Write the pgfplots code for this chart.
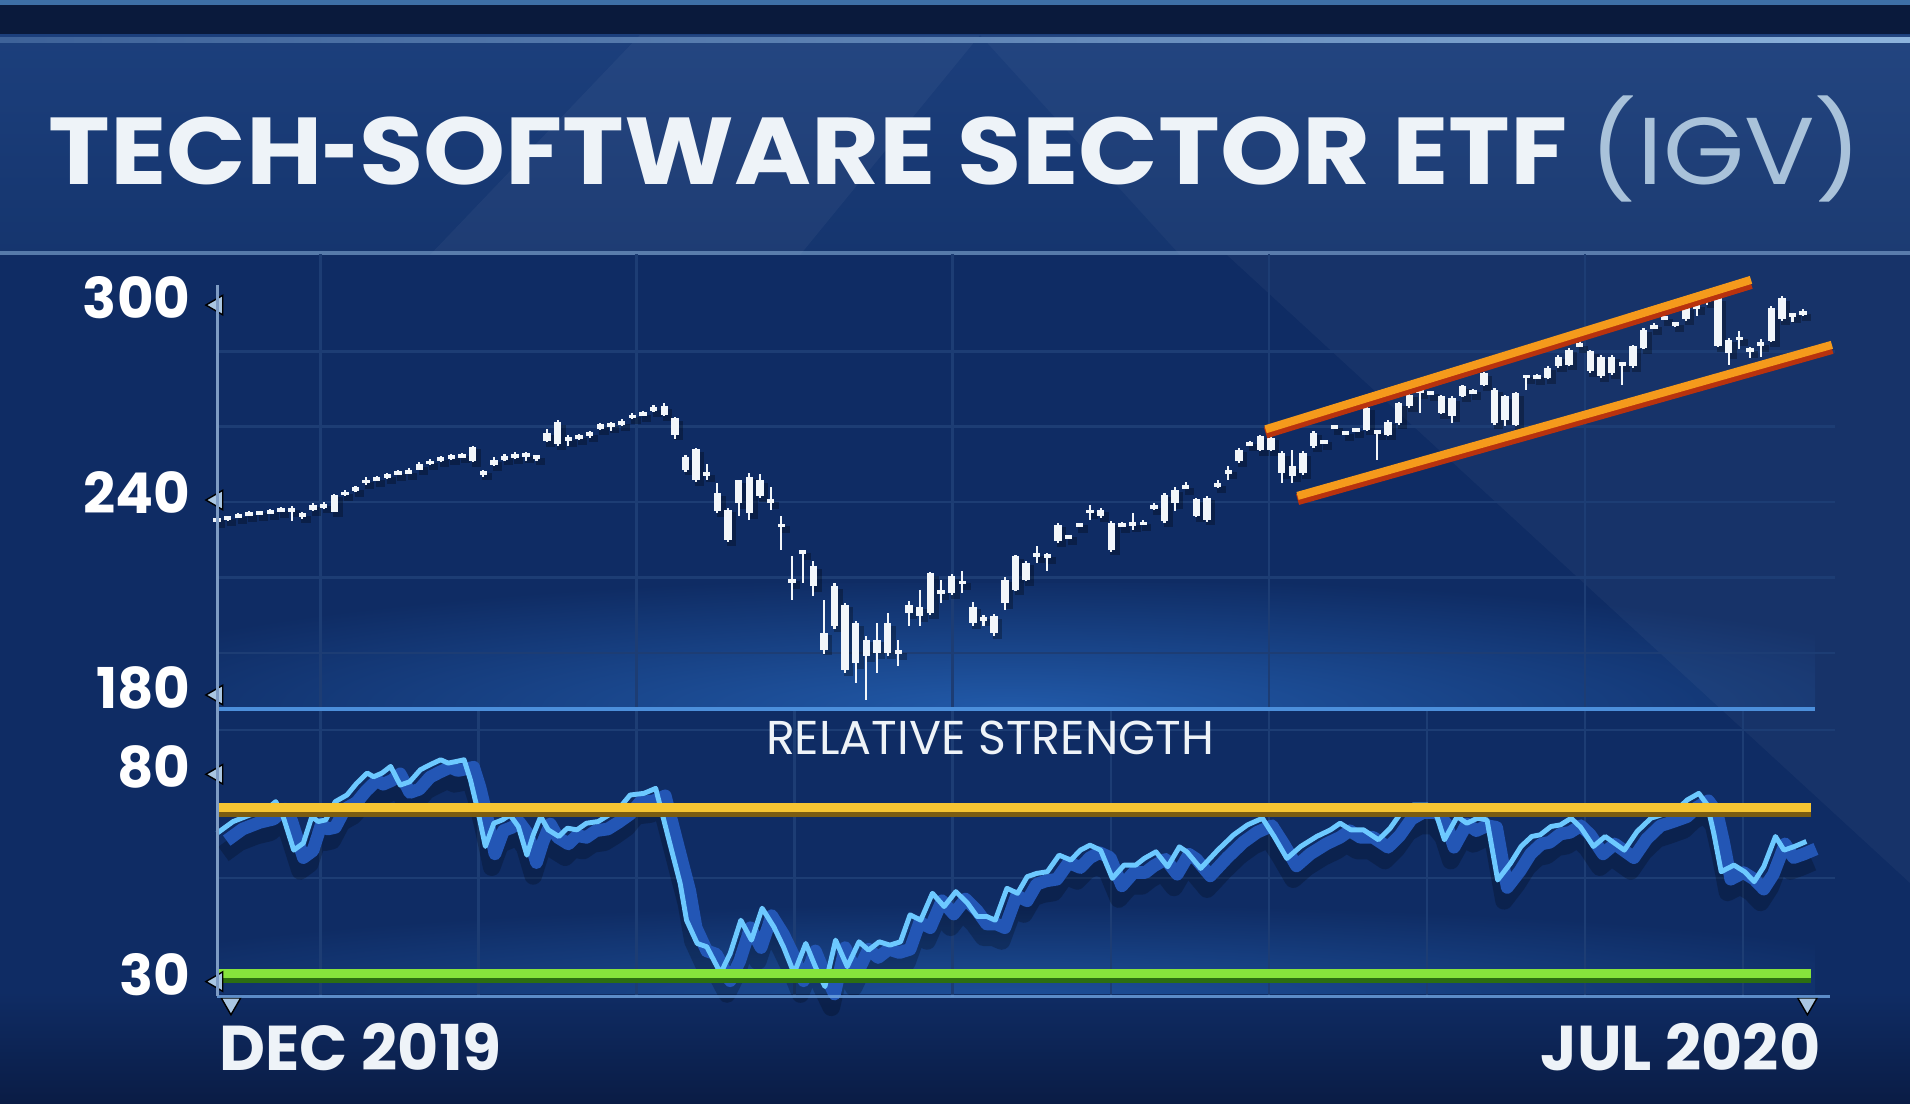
\documentclass[border=0pt]{standalone}
\usepackage{fontspec}
\setmainfont{Poppins}
\usepackage{pgfplots}
\usepackage{pgfplotstable}
\pgfplotsset{compat=1.18}

\definecolor{bgmain}{HTML}{0F2C64}
\definecolor{bgdark}{HTML}{0A1C45}
\definecolor{topstrip}{HTML}{0A1A3C}
\definecolor{toplight}{HTML}{3E6FA6}
\definecolor{titletop}{HTML}{1C3F7C}
\definecolor{titlebot}{HTML}{15356E}
\definecolor{titleedge}{HTML}{8DB3DC}
\definecolor{glow}{HTML}{2159A8}
\definecolor{sepline}{HTML}{4C8FDB}
\definecolor{gridc}{HTML}{1D3D74}
\definecolor{axline}{HTML}{7E9CC4}
\definecolor{tickblue}{HTML}{A9C6E2}
\definecolor{candle}{HTML}{F2F6FA}
\definecolor{orange1}{HTML}{F59A1C}
\definecolor{orange2}{HTML}{B8320E}
\definecolor{yellow1}{HTML}{F6C532}
\definecolor{yellow2}{HTML}{7A5C12}
\definecolor{green1}{HTML}{86E33C}
\definecolor{green2}{HTML}{2C6E12}
\definecolor{rsilight}{HTML}{6DC9FF}
\definecolor{rsidark}{HTML}{2356B5}
\definecolor{igv}{HTML}{A9C2DA}
\definecolor{titlec}{HTML}{EEF3F8}

\newcommand{\ticfont}{\fontsize{16}{16}\selectfont\bfseries}

\pgfplotstableread{
i o h l c
0 231.5 232.8 231 232
1 232 233 231.5 232.4
2 232.6 233.8 232.2 233.3
3 233 234.4 232.8 233.8
4 233.6 234.6 233.2 234.2
5 234 235 233.6 234.4
6 234.3 235.6 234 235
7 235.5 236 231.5 234.3
8 233.8 234.2 232 232.5
9 234.8 237 234.4 236.4
10 236.2 237.2 235 236
11 234.3 239.8 234 239.5
12 239.5 241 239 240.2
13 240.6 242 240.2 241.6
14 243 245 242.6 244.1
15 244 245.2 243.6 244.6
16 244.8 246.2 244.4 245.7
17 246 247 245.6 246.4
18 246.2 247.6 245.8 246.7
19 247.2 249.5 247 248.8
20 249 250.5 248.6 249.8
21 250 251.3 249.6 250.8
22 250.6 252 250.2 251.3
23 251.2 252.4 250.8 251.8
24 249.8 254.6 249.4 254.2
25 246.8 247.2 245 245.7
26 248.6 251 248.2 250.3
27 250.5 252 250 251.3
28 251 252.6 250.6 251.8
29 252.2 252.6 250 251
30 250.6 251.6 250 251.3
31 256 259.8 255.6 258.5
32 255 262.5 254.6 261.8
33 257.2 257.8 254.6 255.9
34 256.8 258.2 256.4 257.5
35 257.8 259 257 258.3
36 259.8 261.6 259.4 261.2
37 261.4 261.8 259.2 260.5
38 261 262.8 260.6 262.1
39 263 264.6 262.8 264.1
40 264 265.2 263.8 264.6
41 265.4 267 265 266.2
42 264 267.8 263.6 266.8
43 263 263.4 256.5 258
44 251 251.8 246.5 247.2
45 253.4 254 243.5 244.1
46 245.5 249 244 246
47 240 243 233.9 234.4
48 234.9 235.5 225 225.6
49 237 244.1 232.8 244
50 233.9 246.2 231.8 245
51 244 246 238.5 239
52 237.8 242 234.9 237.2
53 230.2 232.8 222.6 229.8
54 213.2 220.5 207.2 212.8
55 222 222.6 212.3 221.5
56 217.4 219.2 208.2 211.3
57 197 207.2 190.3 191.8
58 199 212.3 198 211.3
59 205.6 206 184.6 185.6
60 187.7 200.5 181.5 200
61 194.9 196 176.4 189.7
62 190.8 200 184.6 194.9
63 190.8 203 189.7 200
64 191.4 194.9 186.7 190.8
65 203 206.7 199 205.6
66 202 210.3 199 205
67 203 215.8 202.5 215.4
68 209.6 213.3 206.2 209.2
69 209.2 215 208.6 214.4
70 212.6 215.9 209.2 212.3
71 205 206.6 199 200
72 201.2 202.5 199 201.5
73 197 202.8 195.9 202
74 206.2 214 204.1 213.3
75 210.3 220.8 209.8 220.5
76 213.3 219.2 212.8 218.5
77 220.8 223.6 218.5 221
78 220.5 221.5 215.9 220.8
79 225.1 230.8 224.6 230.3
80 226.4 227.2 225.8 226.7
81 230.1 230.6 229.8 230.3
82 234.2 236.4 231.8 234.4
83 232.8 235.4 232.4 234.9
84 222.6 231.4 221.8 230.8
85 230 231.2 229.4 230.3
86 230.3 233.8 228.7 230.6
87 230.4 231.6 230 230.8
88 235.4 237 234.8 235.9
89 231.3 240 230.8 239.5
90 237 242 234.4 241
91 241.6 243.5 241.2 242
92 238 238.6 232.6 233
93 231.8 239 231 238.5
94 242.4 244.1 241.5 242.6
95 246.5 248.2 244 246.7
96 249.7 253.8 249.2 253.3
97 255 256 254.6 255.4
98 253.3 258 252.8 257.4
99 253.3 257.6 252.8 257
100 252.3 252.8 243.1 246.2
101 245.1 253.3 243.1 248.2
102 246.2 252.8 245.6 252.3
103 254.4 259 254 258.5
104 255.6 256.4 255.2 255.9
105 260.2 261 259.8 260.5
106 258.4 259 258 258.5
107 259.3 260 258.8 259.5
108 259.5 266.6 259 266.2
109 258.8 259.2 250.3 258.5
110 258 262.4 257.6 262
111 261.5 268 261 267.7
112 266.7 270.6 266.2 270.3
113 271.6 272 264.6 271.3
114 270.6 271.5 270.3 270.8
115 269.8 270.2 264.2 264.6
116 269.2 269.8 261.5 263.6
117 269.8 273.2 269.4 272.8
118 271 272 270.6 271.3
119 273.3 277.3 273 276.9
120 271.8 272.3 261 261.5
121 262.6 270.2 260.5 269.8
122 261 271.2 260.6 270.8
123 275.6 276.3 271.8 276.1
124 275.6 276.5 275 275.9
125 275.4 279 275 278.5
126 279 282.4 278.6 282
127 279.5 284.5 279 284.1
128 285.4 287 285 285.7
129 283.6 284 277 277.4
130 282 282.5 275.5 275.9
131 276.9 282.4 276.4 282
132 279.8 280 273.3 279.5
133 279 285.5 278.6 285.1
134 284.6 290.7 284.2 290.3
135 291 292.2 290.6 291.3
136 293.6 294.4 293.2 293.9
137 292 292.4 291.2 291.8
138 293.4 297.4 293 297
139 297 298.5 294.4 297.6
140 299.2 300.3 298 299.5
141 300 300.6 285 285.2
142 287.2 287.6 279.5 283.1
143 287.4 290 284.2 287.7
144 284 285 281.6 284.1
145 285.6 287.5 282 286
146 286.7 297.4 286.4 297
147 293.4 300.5 293 300
148 294.8 295.5 292.5 294.9
149 295.2 296.5 294.4 295.4
}\candles

\pgfplotstableread{
x y
0 64.1
1.5 66.9
3.1 68.5
4.4 69.3
5.5 71.7
6.1 68.9
7.2 60.0
8.1 61.7
8.9 68.1
9.5 66.9
10.2 67.3
11.1 71.7
12.2 73.3
13.1 76.1
14.1 78.6
14.7 77.7
15.5 78.6
16.3 80.2
17.2 75.7
18.1 76.5
19.1 79.4
20.0 80.6
21.0 81.8
21.7 81.0
22.5 81.4
23.2 81.8
23.8 76.9
24.4 70.5
25.2 60.9
26.0 66.5
26.8 67.3
27.5 68.5
28.3 65.7
29.1 58.8
29.7 63.7
30.4 68.1
31.1 64.9
32.1 63.3
32.9 65.3
33.8 64.9
34.7 66.5
35.8 66.9
36.8 68.5
37.9 70.5
38.8 73.3
40.1 73.7
41.2 74.9
41.8 68.9
42.6 60.9
43.5 52.0
44.1 43.1
45.1 37.5
46.0 36.7
47.3 30.3
48.2 35.1
49.2 43.1
50.2 38.3
51.2 46.0
52.3 41.5
53.2 36.7
54.2 30.3
55.3 37.5
56.2 31.9
57.1 27.1
58.1 38.3
59.2 31.9
60.3 37.9
61.2 35.9
62.2 37.9
63.2 37.1
64.2 37.9
65.1 44.4
66.1 43.1
67.2 49.6
68.3 46.4
69.4 50.0
70.5 47.2
71.4 44.0
72.3 44.0
73.1 43.1
74.2 50.8
75.2 49.6
76.1 53.6
77.0 54.4
78.0 54.8
79.1 58.8
80.2 57.6
81.1 60.0
82.0 61.2
83.0 60.0
84.1 53.2
85.2 56.4
86.3 56.4
87.1 58.0
88.2 59.6
89.3 56.0
90.4 60.8
91.1 59.6
92.4 55.6
94.0 60.0
95.5 63.7
96.8 66.1
98.2 67.7
99.3 63.3
100.5 58.0
101.8 60.9
103.3 63.3
104.6 64.9
105.5 66.5
106.5 64.9
107.7 64.9
109.1 62.5
110.2 65.3
111.3 69.3
112.4 70.9
113.7 70.9
114.6 68.1
115.3 62.5
116.5 68.1
117.4 66.5
118.4 67.7
119.3 67.3
120.3 52.8
121.5 56.8
122.5 60.9
123.5 63.3
124.3 63.7
125.3 65.7
126.2 66.1
127.2 67.7
128.1 65.5
129.3 60.9
130.4 63.3
132.2 60.0
133.4 64.5
134.7 67.7
135.9 68.7
137.2 69.9
138.1 72.1
139.2 73.7
140.0 70.9
140.6 64.1
141.3 54.8
142.5 56.4
143.5 54.8
144.4 52.4
145.3 56.0
146.4 63.3
147.2 60.0
148.2 60.9
149.3 62.1
}\rsi

\begin{document}
\begin{tikzpicture}[x=0.01cm,y=0.01cm]
% ---------- background ----------
\fill[bgmain] (0,0) rectangle (1910,1104);
\shade[top color=bgmain, bottom color=bgdark] (0,0) rectangle (1910,112);
% soft glow above the separator and at the bottom of the lower panel
\begin{scope}
  \clip (219,397) rectangle (1815,520);
  \shade[inner color=glow, outer color=bgmain] (1010,397) ellipse (980 and 130);
\end{scope}
\begin{scope}
  \clip (219,110) rectangle (1815,200);
  \shade[inner color=glow!75!bgmain, outer color=bgmain] (1010,110) ellipse (980 and 90);
\end{scope}
% lighter diagonal panel on the right
\fill[white, opacity=0.035] (1227,849) -- (1910,849) -- (1910,221) -- cycle;
% top strip
\fill[topstrip] (0,1069) rectangle (1910,1104);
\fill[toplight] (0,1099) rectangle (1910,1104);
% title band
\shade[top color=titletop, bottom color=titlebot] (0,849) rectangle (1910,1069);
\fill[white, opacity=0.04] (640,1069) -- (980,1069) -- (800,849) -- (430,849) -- cycle;
\fill[white, opacity=0.03] (980,1069) -- (1910,1069) -- (1910,849) -- (1180,849) -- cycle;
\shade[left color=titleedge!30!titletop, right color=titleedge, middle color=titleedge!60!titletop] (0,1061) rectangle (1910,1066);
\fill[titleedge, opacity=0.55] (0,849) rectangle (1910,853);

% ---------- price panel ----------
\begin{axis}[
  at={(2.17cm,3.95cm)}, anchor=south west, scale only axis,
  width=16.17cm, height=4.54cm,
  xmin=0, xmax=152, ymin=173.6, ymax=313.4,
  clip=false,
  axis line style={draw=none},
  tick style={draw=none},
  xtick={9.7,39.4,69.1,98.8,128.5}, xticklabels={},
  xmajorgrids,
  ytick={180,240,300}, yticklabels={180,240,300},
  extra y ticks={190.8,214,237.2,260.4,283.6}, extra y tick labels={},
  extra y tick style={grid=major},
  major grid style={draw=gridc, line width=0.7pt},
  /pgf/number format/assume math mode=true,
  yticklabel style={font=\ticfont, text=white, anchor=east, inner sep=0pt, xshift=-0.26cm},
]
% candle shadows
\addplot[forget plot, draw=none, mark=none, mark size=0pt,
  error bars/.cd, y dir=both, y explicit, error mark=none,
  error bar style={line width=2.6pt, draw=black, opacity=0.28}]
  table[x expr={\thisrow{i}+0.35}, y expr={(\thisrow{o}+\thisrow{c})/2-1.3},
        y error expr={max(abs(\thisrow{o}-\thisrow{c})/2,0.6)+0.5}] {\candles};
% wicks
\addplot[forget plot, draw=none, mark=none, mark size=0pt,
  error bars/.cd, y dir=both, y explicit, error mark=none,
  error bar style={line width=0.6pt, draw=candle}]
  table[x=i, y expr={(\thisrow{h}+\thisrow{l})/2},
        y error expr={(\thisrow{h}-\thisrow{l})/2}] {\candles};
% bodies
\addplot[forget plot, draw=none, mark=none, mark size=0pt,
  error bars/.cd, y dir=both, y explicit, error mark=none,
  error bar style={line width=2.1pt, draw=candle}]
  table[x=i, y expr={(\thisrow{o}+\thisrow{c})/2},
        y error expr={max(abs(\thisrow{o}-\thisrow{c})/2,0.6)}] {\candles};
% channel lines
\addplot[orange2, line width=3.2pt] coordinates {(98.5,258.5) (144.1,304.5)};
\addplot[orange1, line width=2.3pt] coordinates {(98.5,259.6) (144.1,305.6)};
\addplot[orange2, line width=3.2pt] coordinates {(101.5,238.0) (151.7,284.5)};
\addplot[orange1, line width=2.3pt] coordinates {(101.5,239.1) (151.7,285.6)};
% tick triangles
\addplot[only marks, mark=triangle*, mark size=3.2pt,
  mark options={rotate=90, fill=tickblue, draw=none, xshift=-2pt}]
  coordinates {(0,300) (0,240) (0,180)};
\end{axis}

% ---------- relative strength panel ----------
\begin{axis}[
  at={(2.17cm,1.074cm)}, anchor=south west, scale only axis,
  width=16.17cm, height=2.876cm,
  xmin=0, xmax=152, ymin=24.7, ymax=94.1,
  clip=false,
  axis line style={draw=none},
  tick style={draw=none},
  xtick={9.7,24.55,39.4,54.25,69.1,83.95,98.8,113.65,128.5,143.35}, xticklabels={},
  xmajorgrids,
  ytick={30,80}, yticklabels={30,80},
  extra y ticks={53.3,89}, extra y tick labels={},
  extra y tick style={grid=major},
  major grid style={draw=gridc, line width=0.7pt},
  /pgf/number format/assume math mode=true,
  yticklabel style={font=\ticfont, text=white, anchor=east, inner sep=0pt, xshift=-0.26cm},
]
\addplot[black, opacity=0.22, line width=5pt, line join=round]
  table[x expr={\thisrow{x}+0.6}, y expr={\thisrow{y}-5}] {\rsi};
\addplot[rsidark, line width=3.6pt, line join=round]
  table[x expr={\thisrow{x}+0.9}, y expr={\thisrow{y}-1.8}] {\rsi};
\addplot[rsilight, line width=1.4pt, line join=round] table[x=x, y=y] {\rsi};
% 70 / 30 levels
\addplot[yellow2, line width=3.7pt] coordinates {(0,69.6) (149.7,69.6)};
\addplot[yellow1, line width=2.5pt] coordinates {(0,70.3) (149.7,70.3)};
\addplot[green2, line width=3.7pt] coordinates {(0,29.6) (149.7,29.6)};
\addplot[green1, line width=2.5pt] coordinates {(0,30.3) (149.7,30.3)};
% tick triangles
\addplot[only marks, mark=triangle*, mark size=3.2pt,
  mark options={rotate=90, fill=tickblue, draw=none, xshift=-2pt}]
  coordinates {(0,80) (0,30)};
\addplot[only marks, mark=triangle*, mark size=3.2pt,
  mark options={rotate=180, fill=tickblue, draw=none}]
  coordinates {(1.3,23.0) (149.4,23.0)};
\end{axis}

% axis lines and separator
\fill[sepline] (219,393) rectangle (1815,397);
\fill[sepline!80!white, opacity=0.8] (217,106) rectangle (1830,109);
\fill[axline] (215.5,108) rectangle (218.5,819);

% ---------- texts ----------
\node[anchor=base west, inner sep=0, text=titlec] at (48,919)
  {\scalebox{1.1}[1]{\fontsize{27}{27}\selectfont\bfseries TECH\scalebox{0.6}[1]{-}SOFTWARE SECTOR ETF\ {\mdseries\color{igv}(IGV)}}};
\node[anchor=base, inner sep=0, text=titlec] at (990,349)
  {\fontsize{13.5}{13.5}\selectfont RELATIVE STRENGTH};
\node[anchor=base west, inner sep=0, text=titlec] at (219,33)
  {\fontsize{18}{18}\selectfont\bfseries DEC 2019};
\node[anchor=base east, inner sep=0, text=titlec] at (1821,33)
  {\fontsize{18}{18}\selectfont\bfseries JUL 2020};
\end{tikzpicture}
\end{document}
